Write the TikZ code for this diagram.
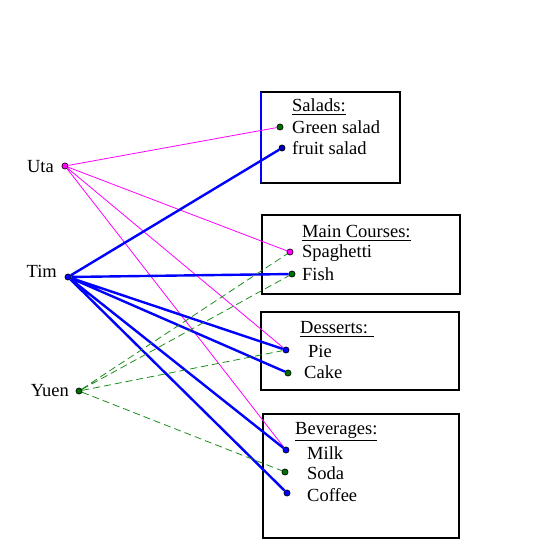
\documentclass[tikz,border=0pt]{standalone}
\usepackage{amsmath}
\usepackage{fontspec}
\setmainfont{Liberation Serif}
\usetikzlibrary{arrows}
\definecolor{utacol}{RGB}{255,0,255}
\definecolor{timcol}{RGB}{0,0,255}
\definecolor{yuencol}{RGB}{30,140,30}
\definecolor{dotgreen}{RGB}{0,110,0}
\definecolor{dotblue}{RGB}{0,0,180}
\newcommand{\dotsize}{2.2pt}
\newcommand{\menusize}{\fontsize{18.5}{21}\selectfont}

\begin{document}
\begin{tikzpicture}[x=1pt,y=-1pt,
  dot/.style={draw, circle, inner sep=\dotsize, line width=.6pt},
  item/.style={anchor=west, inner sep=0pt, font=\menusize},
  who/.style={anchor=east, inner sep=0pt, font=\menusize},
  boxline/.style={line width=2.2pt},
  uline/.style={utacol, line width=.8pt},
  tline/.style={timcol, line width=2.4pt},
  yline/.style={yuencol, line width=.8pt, dash pattern=on 7pt off 4pt}]
\useasboundingbox (0,0) rectangle (540,558);

        % menu boxes
        \draw[boxline] (261,92) rectangle (400,183);
        \draw[boxline] (262,215) rectangle (460,294);
        \draw[boxline] (261,312) rectangle (459,390);
        \draw[boxline] (263,414) rectangle (459,538);
        \draw[timcol, line width=2.6pt] (261,92) -- (261,183);

        % people
        \node (uta) at (65,166) [dot, fill=utacol] {};
        \node (tim) at (68,277) [dot, fill=timcol] {};
        \node (yuen) at (79,391) [dot, fill=dotgreen] {};
        \node[who] (utaL) at (54,167) {Uta};
        \node[who] (timL) at (57,271) {Tim};
        \node[who] (yuenL) at (69,391) {Yuen};

        % food
        \node (green) at (280,127) [dot, fill=dotgreen] {};
        \node (fruit) at (282,148) [dot, fill=dotblue] {};
        \node (spag) at (290,252) [dot, fill=utacol] {};
        \node (fish) at (292,274) [dot, fill=dotgreen] {};
        \node (pie) at (286,350) [dot, fill=timcol] {};
        \node (cake) at (288,373) [dot, fill=dotgreen] {};
        \node (milk) at (286,450) [dot, fill=timcol] {};
        \node (soda) at (285,472) [dot, fill=dotgreen] {};
        \node (coffee) at (287,493) [dot, fill=timcol] {};

        \node[item] (salads) at (292,107) {\underline{Salads:}};
        \node[item] (greenL) at (292,127) {Green salad};
        \node[item] (fruitL) at (292,148) {fruit salad};
        \node[item] (mains) at (302,233) {\underline{Main Courses:}};
        \node[item] (spagL) at (302,253) {Spaghetti};
        \node[item] (fishL) at (302,274) {Fish};
        \node[item] (desserts) at (300,329) {\underline{Desserts: }};
        \node[item] (pieL) at (308,351) {Pie};
        \node[item] (cakeL) at (304,372) {Cake};
        \node[item] (bevs) at (295,432) {\underline{Beverages:}};
        \node[item] (milkL) at (307,453) {Milk};
        \node[item] (sodaL) at (307,473) {Soda};
        \node[item] (coffeeL) at (307,495) {Coffee};

        % choices
        \draw[uline]
        (uta) to (green)
        (uta) to (spag)
        (uta) to (pie)
        (uta) to (milk);
        \draw[tline]
        (tim) to (fruit)
        (tim) to (fish)
        (tim) to (pie)
        (tim) to (cake)
        (tim) to (milk)
        (tim) to (coffee);
        \draw[yline]
        (yuen) to (spag)
        (yuen) to (fish)
        (yuen) to (pie)
        (yuen) to (soda);
\end{tikzpicture}
\end{document}
